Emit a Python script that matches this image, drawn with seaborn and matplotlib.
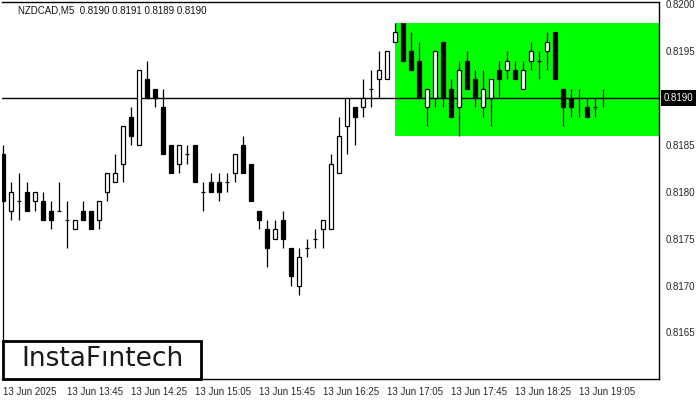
import numpy as np
import matplotlib
matplotlib.use('Agg')
import matplotlib.pyplot as plt
import matplotlib.patches as mpatches
import seaborn as sns

# NZDCAD M5 candles, 13 Jun 2025 from 13:05
opens = [0.8184, 0.8178, 0.8179, 0.8180, 0.8179, 0.8179, 0.8178, 0.8178, 0.8177, 0.8176,
         0.8178, 0.8178, 0.8177, 0.8180, 0.8181, 0.8183, 0.8188, 0.8185, 0.8192, 0.8191,
         0.8189, 0.8185, 0.8183, 0.8184, 0.8185, 0.8180, 0.8181, 0.8181, 0.8181, 0.8182,
         0.8185, 0.8183, 0.8178, 0.8176, 0.8175, 0.8177, 0.8174, 0.8170, 0.8174, 0.8175,
         0.8176, 0.8176, 0.8182, 0.8187, 0.8189, 0.8189, 0.8191, 0.8192, 0.8192, 0.8196,
         0.8198, 0.8195, 0.8194, 0.8189, 0.8190, 0.8196, 0.8191, 0.8189, 0.8194, 0.8192,
         0.8189, 0.8190, 0.8193, 0.8193, 0.8193, 0.8191, 0.8194, 0.8194, 0.8195, 0.8197,
         0.8191, 0.8190, 0.8190, 0.8189, 0.8189, 0.8190]
highs = [0.8185, 0.8181, 0.8182, 0.8181, 0.8180, 0.8180, 0.8179, 0.8181, 0.8179, 0.8177,
         0.8179, 0.8178, 0.8179, 0.8182, 0.8184, 0.8187, 0.8189, 0.8193, 0.8194, 0.8191,
         0.8191, 0.8185, 0.8185, 0.8185, 0.8185, 0.8181, 0.8182, 0.8182, 0.8182, 0.8184,
         0.8186, 0.8183, 0.8178, 0.8177, 0.8177, 0.8178, 0.8174, 0.8174, 0.8175, 0.8176,
         0.8177, 0.8184, 0.8188, 0.8190, 0.8189, 0.8192, 0.8193, 0.8195, 0.8195, 0.8198,
         0.8198, 0.8197, 0.8196, 0.8191, 0.8195, 0.8196, 0.8192, 0.8194, 0.8195, 0.8193,
         0.8193, 0.8192, 0.8194, 0.8195, 0.8194, 0.8194, 0.8196, 0.8195, 0.8197, 0.8197,
         0.8191, 0.8191, 0.8191, 0.8190, 0.8190, 0.8191]
lows = [0.8160, 0.8177, 0.8177, 0.8178, 0.8178, 0.8177, 0.8176, 0.8178, 0.8174, 0.8176,
        0.8177, 0.8176, 0.8176, 0.8179, 0.8181, 0.8181, 0.8185, 0.8185, 0.8190, 0.8189,
        0.8184, 0.8182, 0.8182, 0.8183, 0.8181, 0.8178, 0.8180, 0.8179, 0.8180, 0.8181,
        0.8182, 0.8179, 0.8176, 0.8172, 0.8175, 0.8174, 0.8170, 0.8169, 0.8173, 0.8174,
        0.8174, 0.8176, 0.8182, 0.8184, 0.8185, 0.8188, 0.8189, 0.8190, 0.8192, 0.8196,
        0.8194, 0.8193, 0.8190, 0.8187, 0.8189, 0.8189, 0.8188, 0.8186, 0.8191, 0.8189,
        0.8188, 0.8187, 0.8190, 0.8192, 0.8192, 0.8191, 0.8193, 0.8192, 0.8193, 0.8192,
        0.8187, 0.8188, 0.8188, 0.8188, 0.8188, 0.8189]
closes = [0.8179, 0.8180, 0.8179, 0.8178, 0.8180, 0.8177, 0.8177, 0.8178, 0.8177, 0.8177,
          0.8177, 0.8176, 0.8179, 0.8182, 0.8182, 0.8187, 0.8186, 0.8193, 0.8190, 0.8190,
          0.8184, 0.8182, 0.8185, 0.8184, 0.8181, 0.8180, 0.8180, 0.8180, 0.8181, 0.8184,
          0.8182, 0.8179, 0.8177, 0.8174, 0.8176, 0.8175, 0.8171, 0.8173, 0.8174, 0.8175,
          0.8177, 0.8183, 0.8186, 0.8190, 0.8188, 0.8190, 0.8191, 0.8193, 0.8195, 0.8197,
          0.8194, 0.8193, 0.8190, 0.8191, 0.8195, 0.8190, 0.8188, 0.8193, 0.8191, 0.8190,
          0.8191, 0.8192, 0.8192, 0.8194, 0.8192, 0.8193, 0.8195, 0.8194, 0.8196, 0.8192,
          0.8189, 0.8189, 0.8190, 0.8188, 0.8189, 0.8190]

time_labels = ['13 Jun 2025', '13 Jun 13:45', '13 Jun 14:25', '13 Jun 15:05', '13 Jun 15:45',
               '13 Jun 16:25', '13 Jun 17:05', '13 Jun 17:45', '13 Jun 18:25', '13 Jun 19:05']
price_ticks = [0.8165, 0.8170, 0.8175, 0.8180, 0.8185, 0.8190, 0.8195, 0.8200]

# pattern zone (rectangle) and current price
zone_start = 49
zone_low, zone_high = 0.8186, 0.8198
last_price = 0.8190

sns.set_theme(style='white')
plt.rcParams['font.family'] = ['DejaVu Sans']

o = np.array(opens)
h = np.array(highs)
l = np.array(lows)
c = np.array(closes)
x = np.arange(len(o))

fig = plt.figure(figsize=(7, 4), dpi=100)
ax = fig.add_axes([2 / 700, 21 / 400, 657 / 700, 377 / 400])

ax.fill_between([zone_start, 90], zone_low, zone_high, color='#00ff00', lw=0, zorder=0)
ax.axhline(last_price, color='black', lw=1, zorder=1)

ax.vlines(x, l, h, color='black', lw=0.9, zorder=2)
bull = c >= o
ax.bar(x, np.abs(c - o), bottom=np.minimum(o, c), width=0.55,
       color=np.where(bull, 'white', 'black'), edgecolor='black', linewidth=0.9, zorder=3)

ax.set_xlim(-0.125, 82)
ax.set_ylim(0.816003, 0.820025)

ax.yaxis.tick_right()
ax.set_yticks(price_ticks, ['' if p == last_price else f'{p:.4f}' for p in price_ticks],
              fontsize=7, fontfamily='Liberation Sans')
ax.set_xticks(np.arange(0, 80, 8), time_labels, fontsize=7, fontfamily='Liberation Sans', ha='left')
ax.tick_params(axis='both', direction='out', length=3, width=0.8, color='black')
ax.tick_params(axis='x', pad=3)
ax.tick_params(axis='y', pad=1.5)

sns.despine(ax=ax, left=True, top=False, right=False, bottom=False)
for s in ['top', 'right', 'bottom']:
    ax.spines[s].set_color('black')
    ax.spines[s].set_linewidth(1)

ax.text(1 + 4.5 / 657, last_price, f'{last_price:.4f}', transform=ax.get_yaxis_transform(),
        ha='left', va='center', color='white', fontsize=7, fontfamily='Liberation Sans',
        bbox=dict(boxstyle='square,pad=0.3', fc='black', ec='none'), clip_on=False, zorder=5)

fig.text(18 / 700, 1 - 10.5 / 400, 'NZDCAD,M5  0.8190 0.8191 0.8189 0.8190',
         fontsize=7, fontfamily='Liberation Sans', va='center', ha='left', color='#111111')

fig.add_artist(mpatches.Rectangle((3 / 700, 1 - 378.5 / 400), 198 / 700, 38 / 400,
                                  transform=fig.transFigure, facecolor='white',
                                  edgecolor='black', linewidth=2, zorder=10))
fig.text(102 / 700, 1 - 359.5 / 400, 'InstaFıntech', fontsize=19, color='#1a1a1a',
         ha='center', va='center', zorder=11)

fig.savefig('out.png', dpi=100)
